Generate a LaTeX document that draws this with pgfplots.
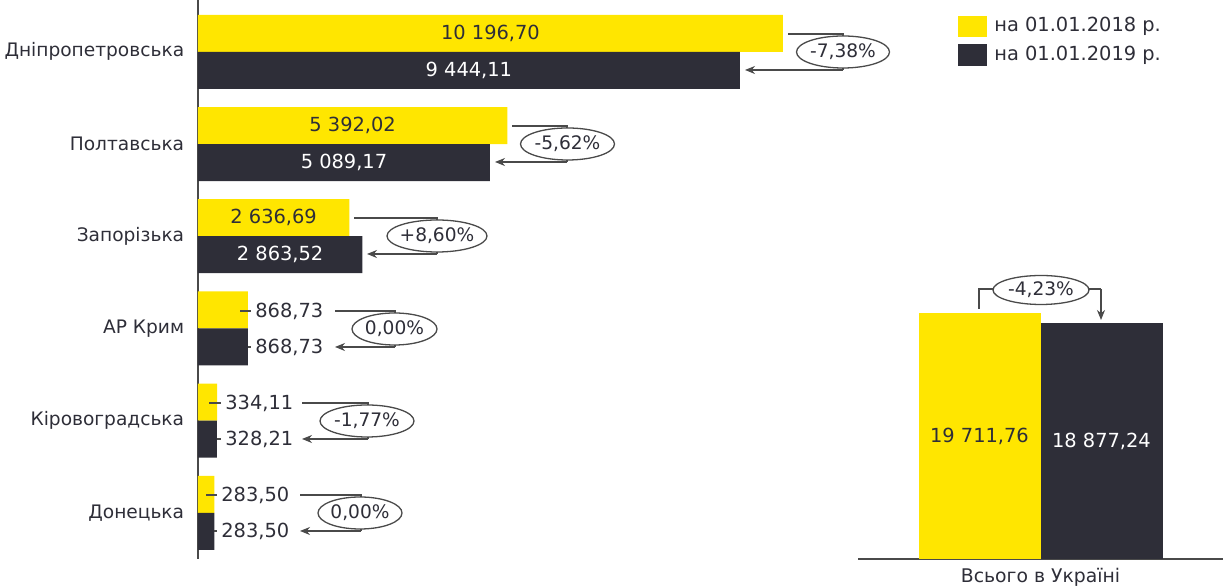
\documentclass[border=0pt]{standalone}
\usepackage{pgfplots}
\pgfplotsset{compat=1.18}
\usepackage{fontspec}
\setmainfont{DejaVu Sans}
\usetikzlibrary{arrows.meta}
\definecolor{eyY}{HTML}{FFE600}
\definecolor{eyD}{HTML}{2E2E38}
\definecolor{txt}{HTML}{2E2E38}
\definecolor{ln}{HTML}{4A4A4A}
\begin{document}
\fontsize{9.7}{11}\selectfont
\begin{tikzpicture}
\useasboundingbox (0,0) rectangle (611.5pt,294pt);
% ---------- left: regions ----------
\begin{axis}[
  at={(99pt,14.5pt)}, anchor=south west,
  scale only axis, width=344.2pt, height=279.4pt,
  xmin=0, xmax=12000, ymin=-0.5, ymax=5.56,
  xbar, bar width=18.5pt,
  axis y line*=left, axis x line=none,
  y axis line style={draw=ln, line width=0.7pt},
  ytick={0,...,5},
  yticklabels={Донецька,Кіровоградська,АР Крим,Запорізька,Полтавська,Дніпропетровська},
  major tick length=0pt,
  yticklabel style={text=txt, xshift=-3.5pt, font=\fontsize{9.3}{11}\selectfont},
  clip=false,
]
\addplot[fill=eyY, draw=none, bar shift=9.25pt] coordinates {(10196.70,5) (5392.02,4) (2636.69,3) (868.73,2) (334.11,1) (283.50,0)};
\addplot[fill=eyD, draw=none, bar shift=-9.25pt] coordinates {(9444.11,5) (5089.17,4) (2863.52,3) (868.73,2) (328.21,1) (283.50,0)};
% labels inside bars
\node[text=txt] at ([yshift=9.25pt]axis cs:5098.35,5) {10 196,70};
\node[text=white] at ([yshift=-9.25pt]axis cs:4722.06,5) {9 444,11};
\node[text=txt] at ([yshift=9.25pt]axis cs:2696.01,4) {5 392,02};
\node[text=white] at ([yshift=-9.25pt]axis cs:2544.59,4) {5 089,17};
\node[text=txt] at ([yshift=9.25pt]axis cs:1318.35,3) {2 636,69};
\node[text=white] at ([yshift=-9.25pt]axis cs:1431.76,3) {2 863,52};
\end{axis}
% ---------- right: total ----------
\begin{axis}[
  at={(429pt,14.5pt)}, anchor=south west,
  scale only axis, width=182.5pt, height=249.6pt,
  xmin=-1, xmax=1, ymin=0, ymax=40000,
  ybar, bar width=61pt,
  axis x line*=bottom, axis y line=none,
  x axis line style={draw=ln, line width=0.7pt},
  xtick={0}, xticklabels={Всього в Україні},
  major tick length=0pt, ytick=\empty,
  xticklabel style={text=txt, yshift=-1pt, font=\fontsize{9.4}{11}\selectfont},
  clip=false,
]
\addplot[fill=eyY, draw=none, bar shift=-30.5pt] coordinates {(0,19711.76)};
\addplot[fill=eyD, draw=none, bar shift=30.5pt] coordinates {(0,18877.24)};
\node[text=txt] at ([xshift=-30.5pt]axis cs:0,9855.88) {19 711,76};
\node[text=white] at ([xshift=30.5pt]axis cs:0,9438.62) {18 877,24};
\end{axis}
% ---------- annotations (pixel scope) ----------
\begin{scope}[shift={(0pt,294pt)}, x=0.5pt, y=-0.5pt]
\tikzset{cl/.style={draw=ln, line width=0.6pt},
         ar/.style={draw=ln, line width=0.6pt, -{Stealth[length=5pt,width=4pt]}},
         el/.style={draw=ln, line width=0.65pt, fill=white},
         pc/.style={text=txt, font=\fontsize{9.3}{11}\selectfont},
         vl/.style={text=txt, anchor=west, inner sep=0pt}}
% Dnipro
\draw[cl] (788,34) -- (843,34) -- (843,70);
\draw[ar] (843,70) -- (745,70);
\draw[el] (843,52) ellipse [x radius=46.5, y radius=16];
\node[pc] at (843,52) {-7,38\%};
% Poltava
\draw[cl] (512,126) -- (567,126) -- (567,162);
\draw[ar] (567,162) -- (495,162);
\draw[el] (567.5,144) ellipse [x radius=47, y radius=16];
\node[pc] at (567.5,144) {-5,62\%};
% Zaporizhzhia
\draw[cl] (354,218) -- (437,218) -- (437,254);
\draw[ar] (437,254) -- (367,254);
\draw[el] (437,236) ellipse [x radius=50, y radius=16];
\node[pc] at (437,236) {+8,60\%};
% Crimea
\draw[cl] (240,311) -- (251,311);
\draw[cl] (248,347) -- (251,347);
\node[vl] at (255,311) {868,73};
\node[vl] at (255,347) {868,73};
\draw[cl] (335,311) -- (395,311) -- (395,347);
\draw[ar] (395,347) -- (335,347);
\draw[el] (394.5,329) ellipse [x radius=42.5, y radius=16];
\node[pc] at (394.5,329) {0,00\%};
% Kirovohrad
\draw[cl] (209,403) -- (221,403);
\draw[cl] (217,439) -- (221,439);
\node[vl] at (225,403) {334,11};
\node[vl] at (225,439) {328,21};
\draw[cl] (302,403) -- (368,403) -- (368,439);
\draw[ar] (368,439) -- (302,439);
\draw[el] (367,421) ellipse [x radius=47, y radius=16];
\node[pc] at (367,421) {-1,77\%};
% Donetsk
\draw[cl] (206,495) -- (217,495);
\draw[cl] (214,531) -- (217,531);
\node[vl] at (221,495) {283,50};
\node[vl] at (221,531) {283,50};
\draw[cl] (300,495) -- (361,495) -- (361,531);
\draw[ar] (361,531) -- (300,531);
\draw[el] (360,513) ellipse [x radius=42, y radius=16];
\node[pc] at (360,513) {0,00\%};
% Total
\draw[cl] (979,309) -- (979,289) -- (1101,289);
\draw[ar] (1101,289) -- (1101,320);
\draw[el] (1041,290) ellipse [x radius=48, y radius=14.5];
\node[pc] at (1041,290) {-4,23\%};
% Legend
\fill[eyY] (958,16) rectangle (987,37);
\fill[eyD] (958,44) rectangle (987,66);
\node[vl] at (994,26.5) {на 01.01.2018 р.};
\node[vl] at (994,55) {на 01.01.2019 р.};
\end{scope}
\end{tikzpicture}
\end{document}
